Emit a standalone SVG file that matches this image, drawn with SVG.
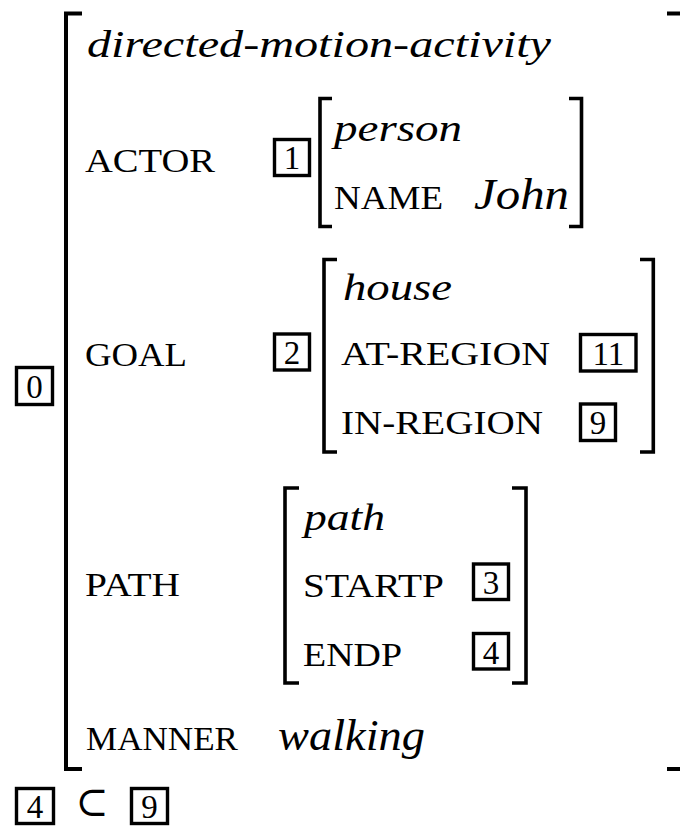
<svg xmlns="http://www.w3.org/2000/svg" width="680" height="826" viewBox="0 0 680 826">
<style>
.br{fill:none;stroke:#000;stroke-width:3.6;stroke-linecap:butt;stroke-linejoin:miter}
.bo{fill:none;stroke:#000;stroke-width:4;stroke-linejoin:miter}
.box{fill:none;stroke:#000;stroke-width:3.4}
.rm{font-family:"Liberation Serif","Times New Roman",serif;font-size:33px;fill:#000}
.dg{font-family:"Liberation Serif","Times New Roman",serif;font-size:33px;fill:#000;text-anchor:middle}
.it{font-family:"Liberation Serif","Times New Roman",serif;font-style:italic;font-size:38px;fill:#000}
.itl{font-family:"Liberation Serif","Times New Roman",serif;font-style:italic;font-size:44px;fill:#000}
.sym{font-family:"DejaVu Serif","DejaVu Sans",serif;font-size:42px;fill:#000;text-anchor:middle}
</style>
<rect width="680" height="826" fill="#fff"/>
<g id="outer">
<path class="bo" d="M82,13.5 H66 V769 H82"/>
<path class="bo" d="M667,13.5 H684 V769 H667"/>
<text class="it" x="87" y="57" textLength="464" lengthAdjust="spacingAndGlyphs">directed-motion-activity</text>
<rect class="box" x="16.5" y="367.5" width="36" height="37"/>
<text class="dg" x="34.5" y="397.5">0</text>
</g>
<g id="actor">
<text class="rm" x="85" y="172" textLength="130" lengthAdjust="spacingAndGlyphs">ACTOR</text>
<rect class="box" x="274.5" y="139.5" width="35" height="36"/>
<text class="dg" x="292" y="169">1</text>
<path class="br" d="M332,98.5 H320 V226.5 H332"/>
<path class="br" d="M569,98.5 H581.5 V226.5 H569"/>
<text class="it" x="334" y="141" textLength="128" lengthAdjust="spacingAndGlyphs">person</text>
<text class="rm" x="334" y="209" textLength="109" lengthAdjust="spacingAndGlyphs">NAME</text>
<text class="itl" x="474" y="209" textLength="95" lengthAdjust="spacingAndGlyphs">John</text>
</g>
<g id="goal">
<text class="rm" x="85" y="366" textLength="102" lengthAdjust="spacingAndGlyphs">GOAL</text>
<rect class="box" x="274.5" y="334" width="35" height="36"/>
<text class="dg" x="292" y="363.5">2</text>
<path class="br" d="M337,259.5 H324 V452 H337"/>
<path class="br" d="M640,259.5 H653.3 V452 H640"/>
<text class="it" x="343" y="300" textLength="109" lengthAdjust="spacingAndGlyphs">house</text>
<text class="rm" x="341" y="365" textLength="209" lengthAdjust="spacingAndGlyphs">AT-REGION</text>
<rect class="box" x="580.5" y="334.5" width="55.5" height="36.5"/>
<text class="dg" x="608.3" y="364.5">11</text>
<text class="rm" x="341" y="434" textLength="202" lengthAdjust="spacingAndGlyphs">IN-REGION</text>
<rect class="box" x="580.5" y="404" width="35" height="36.5"/>
<text class="dg" x="598" y="434">9</text>
</g>
<g id="path">
<text class="rm" x="85" y="596" textLength="95" lengthAdjust="spacingAndGlyphs">PATH</text>
<path class="br" d="M299,488 H285 V683 H299"/>
<path class="br" d="M512,488 H526 V683 H512"/>
<text class="it" x="304" y="530" textLength="81" lengthAdjust="spacingAndGlyphs">path</text>
<text class="rm" x="303" y="597" textLength="141" lengthAdjust="spacingAndGlyphs">STARTP</text>
<rect class="box" x="473.5" y="564" width="35" height="35.5"/>
<text class="dg" x="491" y="594">3</text>
<text class="rm" x="303" y="666" textLength="99" lengthAdjust="spacingAndGlyphs">ENDP</text>
<rect class="box" x="473.5" y="633.5" width="35" height="35.5"/>
<text class="dg" x="491" y="663.5">4</text>
</g>
<g id="manner">
<text class="rm" x="86" y="750" textLength="152" lengthAdjust="spacingAndGlyphs">MANNER</text>
<text class="itl" x="278" y="750" textLength="147" lengthAdjust="spacingAndGlyphs">walking</text>
</g>
<g id="constraint">
<rect class="box" x="16.5" y="788.5" width="37" height="35"/>
<text class="dg" x="35" y="818">4</text>
<text class="sym" x="92" y="816" textLength="33" lengthAdjust="spacingAndGlyphs">⊂</text>
<rect class="box" x="131.5" y="788.5" width="36" height="35"/>
<text class="dg" x="149.5" y="818">9</text>
</g>
</svg>
